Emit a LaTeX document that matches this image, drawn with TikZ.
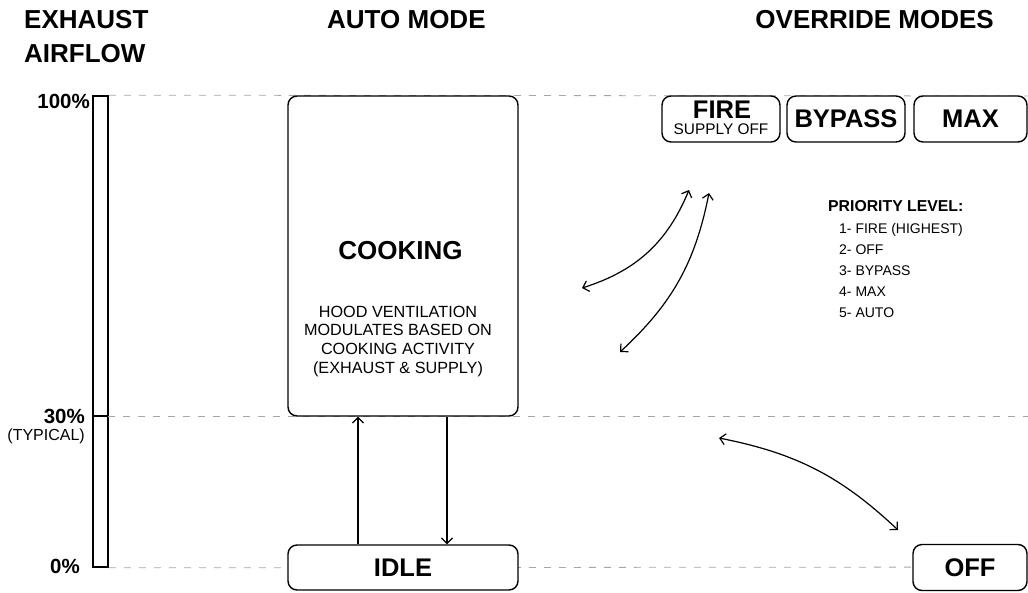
\documentclass[tikz,border=0pt]{standalone}
\usepackage{fontspec}
\setmainfont{Liberation Sans}
\usetikzlibrary{arrows.meta, positioning}

\begin{document}
\begin{tikzpicture}[x=1pt, y=-1pt,
  txt/.style={inner sep=0pt},
  head/.style={txt, anchor=base west, font=\fontsize{26}{28}\selectfont\bfseries},
  pct/.style={txt, anchor=base east, font=\fontsize{20.5}{22}\selectfont\bfseries},
  modebox/.style={draw, line width=1.4pt, rounded corners=9pt, fill=white, inner sep=0pt,
    font=\fontsize{25.5}{28}\selectfont\bfseries},
  level/.style={gray!70, line width=0.8pt, dash pattern=on 7pt off 8pt},
  barb/.style={line width=1.2pt, -{Straight Barb[length=5.5pt,width=11pt]}},
  trans/.style={line width=1.2pt, {Straight Barb[length=5.5pt,width=11pt]}-{Straight Barb[length=5.5pt,width=11pt]}}]

\useasboundingbox (0,0) rectangle (1028,592);

% headings
\node[head] (hexh) at (24,28) {EXHAUST};
\node[head] (hair) at (24,62) {AIRFLOW};
\node[head] (hauto) at (327,28) {AUTO MODE};
\node[head, anchor=base east] (hover) at (994,28) {OVERRIDE MODES};

% airflow bar
\node[draw, line width=1.6pt, minimum width=15, minimum height=471, inner sep=0pt] (bar) at (100.5,331.5) {};
\coordinate (typ) at (108,416);
\draw[line width=1.6pt] (typ) -- ++(-15,0);
\node[pct] (p100) at (90,108) {100\%};
\node[pct] (p30) at (85,423) {30\%};
\node[txt, anchor=base east, font=\fontsize{16}{17}\selectfont] (ptyp) at (85,440) {(TYPICAL)};
\node[pct] (p0) at (80,573) {0\%};

% levels
\draw[level] (bar.north east) -- (1028,96);
\draw[level] (typ) -- (1028,416);
\draw[level] (bar.south east) -- (1028,567);

% auto mode
\node[modebox, minimum width=230, minimum height=320] (cook) at (403,256) {};
\node[txt, anchor=base, font=\fontsize{26}{28}\selectfont\bfseries] (cooktitle) at (400.5,259) {COOKING};
\foreach \t [count=\i] in {HOOD VENTILATION, MODULATES BASED ON, COOKING ACTIVITY, (EXHAUST \& SUPPLY)}
    \node[txt, anchor=base, font=\fontsize{16.2}{18}\selectfont] at (398,298.5+18.7*\i) {\t};
\node[modebox, minimum width=230, minimum height=45] (idle) at (403,567.5) {IDLE};
\draw[barb] ([xshift=-45pt]idle.north) -- ([xshift=-45pt]cook.south);
\draw[barb] ([xshift=44pt]cook.south) -- ([xshift=44pt]idle.north);

% override modes
\node[modebox, minimum width=118, minimum height=46] (fire) at (721,119) {};
\node[txt, anchor=base, font=\fontsize{25.5}{28}\selectfont\bfseries] (firetitle) at (722,118) {FIRE};
\node[txt, anchor=base, font=\fontsize{15.4}{17}\selectfont] (firesub) at (721,134) {SUPPLY OFF};
\node[modebox, minimum width=118, minimum height=46] (bypass) at (846,119) {BYPASS};
\node[modebox, minimum width=113, minimum height=46] (max) at (970.5,119) {MAX};
\node[modebox, minimum width=114, minimum height=46] (off) at (970,567.5) {OFF};

% transitions
\coordinate (a1) at (582,288);
\coordinate (b1) at (689,190);
\coordinate (a2) at (620,352);
\coordinate (b2) at (709,193);
\coordinate (a3) at (719,438);
\coordinate (b3) at (898,530);
\draw[trans] (a1) to[bend right=25] (b1);
\draw[trans] (a2) to[bend right=18] (b2);
\draw[trans] (a3) to[bend left=16] (b3);

% priority
\node[txt, anchor=base west, font=\fontsize{15.8}{18}\selectfont\bfseries] (prio) at (828,211) {PRIORITY LEVEL:};
\foreach \t [count=\i] in {1- FIRE (HIGHEST), 2- OFF, 3- BYPASS, 4- MAX, 5- AUTO}
    \node[txt, anchor=base west, font=\fontsize{14}{16}\selectfont] at (839,212+21*\i) {\t};
\end{tikzpicture}
\end{document}
